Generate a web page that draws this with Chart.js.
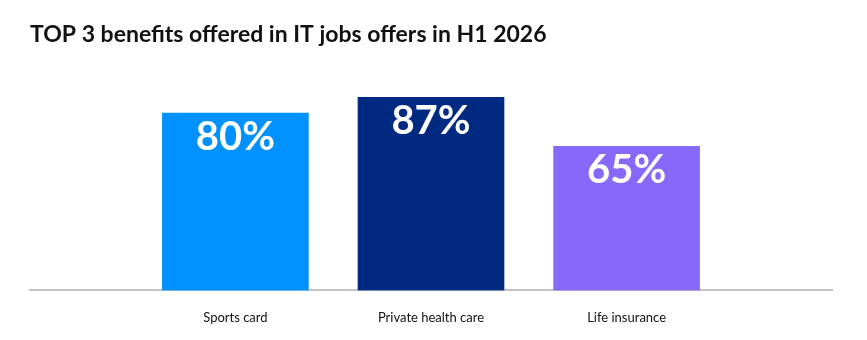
<!DOCTYPE html>
<html>
<head>
<meta charset="utf-8">
<script src="https://cdn.jsdelivr.net/npm/chart.js@4.4.1/dist/chart.umd.min.js"></script>
<style>
  html, body { margin: 0; padding: 0; background: #ffffff; }
  #wrap { width: 867px; height: 340px; }
</style>
</head>
<body>
<div id="wrap"><canvas id="benefitsChart"></canvas></div>
<script>
const categories = ['Sports card', 'Private health care', 'Life insurance'];
const positions = [1, 2, 3];
const shares = [80, 87, 65];
const barColors = ['#0091ff', '#002a82', '#8769fa'];

const FONT = 'Lato, "Noto Sans", sans-serif';

// draws the white % values inside each bar, near the top
const barValueLabels = {
  id: 'barValueLabels',
  afterDatasetsDraw(chart){
    const { ctx } = chart;
    const meta = chart.getDatasetMeta(0);
    ctx.save();
    ctx.fillStyle = '#ffffff';
    ctx.font = 'bold 40px ' + FONT;
    ctx.textAlign = 'center';
    ctx.textBaseline = 'middle';
    meta.data.forEach((bar, i) => {
      ctx.fillText(shares[i] + '%', bar.x, bar.y + 24);
    });
    ctx.restore();
  }
};

const ctx = document.getElementById('benefitsChart').getContext('2d');
new Chart(ctx, {
  type: 'bar',
  data: {
    datasets: [{
      data: positions.map((p, i) => ({ x: p, y: shares[i] })),
      backgroundColor: barColors,
      barThickness: 146,
      borderWidth: 0
    }]
  },
  options: {
    responsive: true,
    maintainAspectRatio: false,
    animation: false,
    layout: { padding: { left: 30, right: 35, top: 0, bottom: -6 } },
    plugins: {
      legend: { display: false },
      tooltip: { enabled: false },
      title: {
        display: true,
        text: 'TOP 3 benefits offered in IT jobs offers in H1 2026',
        align: 'start',
        color: '#111111',
        font: { family: FONT, size: 23, weight: 'bold' },
        padding: { top: 21, bottom: 20 }
      }
    },
    scales: {
      x: {
        type: 'linear',
        offset: false,
        min: -0.05,
        max: 4.05,
        grid: { display: false, drawTicks: false },
        border: { display: true, color: '#c4c4c4', width: 2 },
        ticks: {
          stepSize: 1,
          autoSkip: false,
          maxRotation: 0,
          padding: 20,
          color: '#111111',
          font: { family: FONT, size: 13 },
          callback: v => (Number.isInteger(v) && v >= 1 && v <= 3) ? categories[v - 1] : ''
        }
      },
      y: {
        display: false,
        min: 0,
        max: 100
      }
    }
  },
  plugins: [barValueLabels]
});
</script>
</body>
</html>
